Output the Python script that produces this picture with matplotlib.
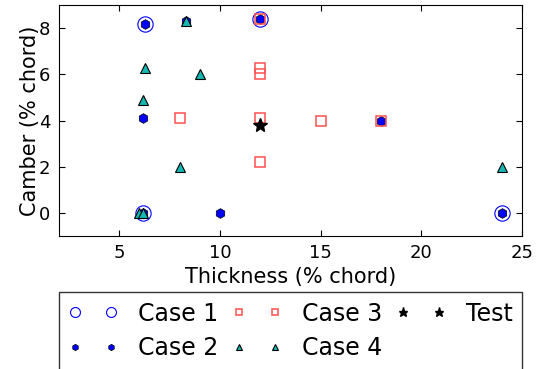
import matplotlib
matplotlib.use("Agg")
import matplotlib.pyplot as plt

# Case data (thickness, camber) in % chord
case1_t = [6.3, 12.0, 6.2, 24.0]
case1_c = [8.2, 8.4, 0.0, 0.0]

case2_t = [6.3, 8.3, 12.0, 6.2, 10.0, 18.0, 24.0, 6.2]
case2_c = [8.2, 8.3, 8.4, 4.1, 0.0, 4.0, 0.0, 0.0]

case3_t = [8.0, 12.0, 12.0, 12.0, 12.0, 12.0, 15.0, 18.0]
case3_c = [4.1, 8.4, 6.3, 6.0, 4.1, 2.2, 4.0, 4.0]

case4_t = [8.3, 6.3, 9.0, 6.2, 8.0, 24.0, 6.0, 6.2]
case4_c = [8.3, 6.3, 6.0, 4.9, 2.0, 2.0, 0.0, 0.0]

test_t = [12.0]
test_c = [3.8]

fig = plt.figure(figsize=(5.4, 3.69), dpi=100)
ax = fig.add_axes([0.109, 0.36, 0.858, 0.626])

ax.plot(case1_t, case1_c, 'o', ms=11, mfc='none', mec='b', mew=0.8, label='Case 1')
ax.plot(case2_t, case2_c, 'h', ms=7, mfc='b', mec='k', mew=0.5, label='Case 2')
ax.plot(case3_t, case3_c, 's', ms=7.5, mfc='none', mec='#ff5050', mew=1.1, label='Case 3')
ax.plot(case4_t, case4_c, '^', ms=7.5, mfc='#14b8b2', mec='k', mew=0.8, label='Case 4')
ax.plot(test_t, test_c, '*', ms=10, mfc='k', mec='k', label='Test')

ax.set_xlim(2, 25)
ax.set_ylim(-1, 9)
ax.set_xticks([5, 10, 15, 20, 25])
ax.set_yticks([0, 2, 4, 6, 8])
ax.tick_params(direction='in', top=True, right=True, labelsize=13, length=4, pad=6)
ax.set_xlabel('Thickness (% chord)', fontsize=15, labelpad=3)
ax.set_ylabel('Camber (% chord)', fontsize=15, labelpad=-1)

leg = ax.legend(loc='upper left', bbox_to_anchor=(0, -0.242, 1, 0), mode='expand',
                ncol=3, numpoints=2, fontsize=17, markerscale=0.65, fancybox=False,
                borderaxespad=0, handlelength=2.1, columnspacing=0.2, handletextpad=0.85,
                labelspacing=0.45, borderpad=0.4)
leg.get_frame().set_edgecolor('k')

fig.savefig('out.png', dpi=100)
